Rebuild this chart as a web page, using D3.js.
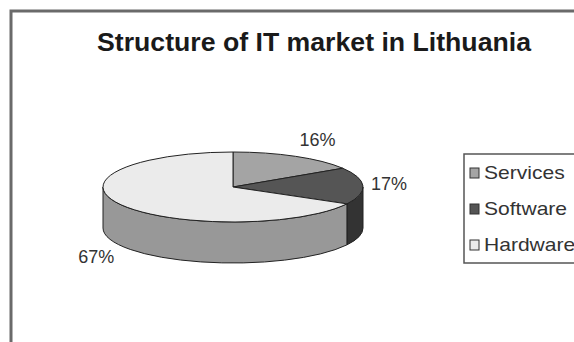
<!DOCTYPE html>
<html>
<head>
<meta charset="utf-8">
<script src="https://cdn.jsdelivr.net/npm/d3@7"></script>
<style>
  body { margin: 0; background: #fff; }
  svg { display: block; overflow: hidden; }
</style>
</head>
<body>
<div id="chart"></div>
<script>
// data
var categories = ["Services", "Software", "Hardware"];
var shares = [16, 17, 67];
var topColors = ["#a4a4a4", "#555555", "#ebebeb"];
var sideColors = ["#7a7a7a", "#333333", "#989898"];
var chartTitle = "Structure of IT market in Lithuania";

var width = 574, height = 342;

var svg = d3.select("#chart")
    .append("svg")
    .attr("width", width)
    .attr("height", height);

//frame (only top and left edges are inside the picture)
svg.append("rect")
    .attr("x", 11)
    .attr("y", 11)
    .attr("width", 700)
    .attr("height", 500)
    .attr("fill", "#fff")
    .attr("stroke", "#6a6a6a")
    .attr("stroke-width", 3);

//title
svg.append("text")
    .attr("x", 314)
    .attr("y", 51)
    .attr("text-anchor", "middle")
    .attr("font-family", "Liberation Sans, Arial, sans-serif")
    .attr("font-weight", "bold")
    .attr("font-size", 25)
    .attr("textLength", 434)
    .attr("lengthAdjust", "spacingAndGlyphs")
    .attr("fill", "#1a1a1a")
    .text(chartTitle);

//3d pie geometry
var cx = 233, cy = 187, rx = 130, ry = 35, depth = 41;

var pie = d3.pie().sort(null).value(function (d) { return d; });
var arcs = pie(shares);

function pt(a, dy) {
    return [cx + rx * Math.sin(a), cy - ry * Math.cos(a) + (dy || 0)];
}

function topPath(d) {
    var p0 = pt(d.startAngle), p1 = pt(d.endAngle);
    var large = (d.endAngle - d.startAngle) > Math.PI ? 1 : 0;
    return "M" + cx + "," + cy + "L" + p0 + "A" + rx + "," + ry + " 0 " + large + " 1 " + p1 + "Z";
}

function sidePath(d) {
    var s0 = Math.max(d.startAngle, Math.PI / 2);
    var s1 = Math.min(d.endAngle, 3 * Math.PI / 2);
    if (s1 <= s0) return null;
    var a = pt(s0), b = pt(s1), c = pt(s1, depth), e = pt(s0, depth);
    return "M" + a + "A" + rx + "," + ry + " 0 0 1 " + b +
        "L" + c + "A" + rx + "," + ry + " 0 0 0 " + e + "Z";
}

var g = svg.append("g");

//side walls
g.selectAll(".side")
    .data(arcs.filter(function (d) { return sidePath(d); }))
    .enter()
    .append("path")
    .attr("class", "side")
    .attr("d", sidePath)
    .attr("fill", function (d) { return sideColors[d.index]; })
    .attr("stroke", "#222")
    .attr("stroke-width", 1);

//top faces
g.selectAll(".top")
    .data(arcs)
    .enter()
    .append("path")
    .attr("class", "top")
    .attr("d", topPath)
    .attr("fill", function (d) { return topColors[d.index]; })
    .attr("stroke", "#222")
    .attr("stroke-width", 1);

//percentage labels
g.selectAll(".lbl")
    .data(arcs)
    .enter()
    .append("text")
    .attr("class", "lbl")
    .attr("x", function (d) {
        var m = (d.startAngle + d.endAngle) / 2;
        return cx + (rx + 8) * Math.sin(m);
    })
    .attr("y", function (d) {
        var m = (d.startAngle + d.endAngle) / 2;
        var c = Math.cos(m);
        return cy - (ry + 8) * c + (c < 0 ? depth + 3 : 0) + 5 - 10 * c;
    })
    .attr("text-anchor", function (d) {
        var m = (d.startAngle + d.endAngle) / 2;
        return Math.sin(m) >= 0 ? "start" : "end";
    })
    .attr("font-family", "Liberation Sans, Arial, sans-serif")
    .attr("font-size", 18)
    .attr("fill", "#333")
    .text(function (d) { return d.data + "%"; });

//legend
var legend = svg.append("g");
legend.append("rect")
    .attr("x", 464)
    .attr("y", 154)
    .attr("width", 160)
    .attr("height", 109)
    .attr("fill", "#fff")
    .attr("stroke", "#555")
    .attr("stroke-width", 1.5);

var rowY = d3.scalePoint()
    .domain(categories)
    .range([173, 245]);

var item = legend.selectAll(".item")
    .data(categories)
    .enter()
    .append("g")
    .attr("class", "item")
    .attr("transform", function (d) { return "translate(470," + rowY(d) + ")"; });

item.append("rect")
    .attr("x", 0)
    .attr("y", -5)
    .attr("width", 9)
    .attr("height", 10)
    .attr("fill", function (d, i) { return topColors[i]; })
    .attr("stroke", "#333")
    .attr("stroke-width", 1);

item.append("text")
    .attr("transform", "translate(14,6) scale(1.17,1)")
    .attr("font-family", "Liberation Sans, Arial, sans-serif")
    .attr("font-size", 18)
    .attr("fill", "#333")
    .text(function (d) { return d; });
</script>
</body>
</html>
